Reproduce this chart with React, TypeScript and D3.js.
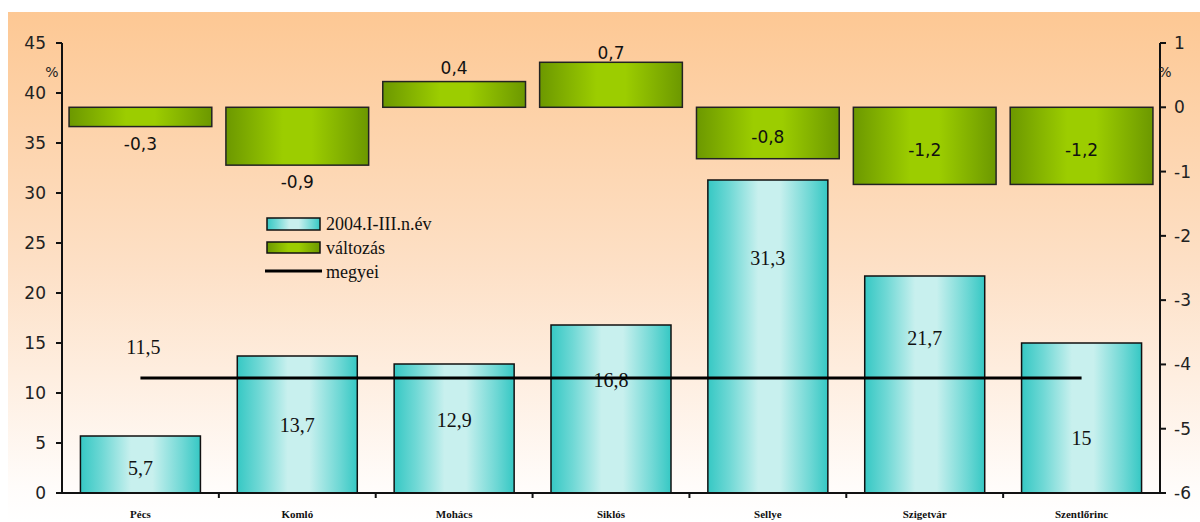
import React from "react";
import * as d3 from "d3";

const categories = ["Pécs", "Komló", "Mohács", "Siklós", "Sellye", "Szigetvár", "Szentlőrinc"];
const values2004 = [5.7, 13.7, 12.9, 16.8, 31.3, 21.7, 15];
const change = [-0.3, -0.9, 0.4, 0.7, -0.8, -1.2, -1.2];
const county = 11.5;
const leftTicks = [0, 5, 10, 15, 20, 25, 30, 35, 40, 45];
const rightTicks = [1, 0, -1, -2, -3, -4, -5, -6];
const legendLabels = ["2004.I-III.n.év", "változás", "megyei"];

const fmt = (v: number) => String(v).replace(".", ",");

export default function App() {
  const W = 1192, H = 510;
  const x0 = 62, x1 = 1160, yTop = 43, yBot = 493;
  const band = d3.scaleBand<string>().domain(categories).range([x0, x1]).paddingInner(0).paddingOuter(0);
  const yL = d3.scaleLinear().domain([0, 45]).range([yBot, yTop]);
  const yR = d3.scaleLinear().domain([-6, 1]).range([yBot, yTop]);
  const bw = band.bandwidth();
  const blueW = bw * 0.765;
  const greenW = bw * 0.91;
  // label positions in value units (as placed in the original)
  const blueLabelAt = [2.5, 6.8, 7.3, 11.3, 23.5, 15.5, 5.5];
  const greenLabelAt = [-0.56, -1.14, 0.62, 0.86, -0.45, -0.65, -0.65];

  return (
    <svg width={W} height={H} style={{ display: "block", position: "absolute", left: 8, top: 12 }}>
      <defs>
        <linearGradient id="bg" x1="0" y1="0" x2="0" y2="1">
          <stop offset="0" stopColor="#fdc894" />
          <stop offset="0.5" stopColor="#fde0c6" />
          <stop offset="0.93" stopColor="#fffcfa" />
          <stop offset="1" stopColor="#ffffff" />
        </linearGradient>
        <linearGradient id="blue" x1="0" y1="0" x2="1" y2="0">
          <stop offset="0" stopColor="#36c8c4" />
          <stop offset="0.18" stopColor="#6fd8d5" />
          <stop offset="0.42" stopColor="#c8f0ee" />
          <stop offset="0.6" stopColor="#c8f0ee" />
          <stop offset="0.85" stopColor="#6fd8d5" />
          <stop offset="1" stopColor="#36c8c4" />
        </linearGradient>
        <linearGradient id="green" x1="0" y1="0" x2="1" y2="0">
          <stop offset="0" stopColor="#6c9800" />
          <stop offset="0.4" stopColor="#9ccd00" />
          <stop offset="0.6" stopColor="#9ccd00" />
          <stop offset="1" stopColor="#6c9800" />
        </linearGradient>
      </defs>
      <g transform="translate(-8,-12)">
        <rect x={8} y={12} width={W} height={H} fill="url(#bg)" />

        {/* blue bars */}
        {categories.map((c, i) => {
          const cx = band(c)! + bw / 2;
          return (
            <g key={"b" + c}>
              <rect x={cx - blueW / 2} y={yL(values2004[i])} width={blueW} height={yBot - yL(values2004[i])}
                fill="url(#blue)" stroke="#111" strokeWidth={1.5} />
              <text x={cx} y={yL(blueLabelAt[i]) + 7} textAnchor="middle"
                fontFamily="Liberation Serif, serif" fontSize={20} fill="#111">{fmt(values2004[i])}</text>
            </g>
          );
        })}

        {/* county line */}
        <line x1={band(categories[0])! + bw / 2} x2={band(categories[6])! + bw / 2} y1={yL(county)} y2={yL(county)}
          stroke="#000" strokeWidth={3} />
        <text x={band(categories[0])! + bw / 2 + 3} y={yL(county) - 24} textAnchor="middle"
          fontFamily="Liberation Serif, serif" fontSize={20} fill="#111">{fmt(county)}</text>

        {/* green bars */}
        {categories.map((c, i) => {
          const cx = band(c)! + bw / 2;
          const v = change[i];
          return (
            <g key={"g" + c}>
              <rect x={cx - greenW / 2} y={Math.min(yR(v), yR(0))} width={greenW} height={Math.abs(yR(v) - yR(0))}
                fill="url(#green)" stroke="#222" strokeWidth={1.5} />
              <text x={cx} y={yR(greenLabelAt[i]) + 7} textAnchor="middle"
                fontFamily="DejaVu Sans, sans-serif" fontSize={17} fill="#111">{fmt(v)}</text>
            </g>
          );
        })}

        {/* axes */}
        <line x1={x0} x2={x0} y1={yTop} y2={yBot} stroke="#111" strokeWidth={2} />
        <line x1={x1} x2={x1} y1={yTop} y2={yBot} stroke="#111" strokeWidth={2} />
        <line x1={x0} x2={x1} y1={yBot} y2={yBot} stroke="#111" strokeWidth={2} />
        {leftTicks.map(t => (
          <g key={"l" + t}>
            <line x1={x0 - 6} x2={x0} y1={yL(t)} y2={yL(t)} stroke="#111" strokeWidth={2} />
            <text x={x0 - 16} y={yL(t) + 6} textAnchor="end" fontFamily="DejaVu Sans, sans-serif" fontSize={17} fill="#222">{t}</text>
          </g>
        ))}
        {rightTicks.map(t => (
          <g key={"r" + t}>
            <line x1={x1} x2={x1 + 6} y1={yR(t)} y2={yR(t)} stroke="#111" strokeWidth={2} />
            <text x={x1 + 14} y={yR(t) + 6} textAnchor="start" fontFamily="DejaVu Sans, sans-serif" fontSize={17} fill="#222">{t}</text>
          </g>
        ))}
        {categories.slice(1).map(c => (
          <line key={"t" + c} x1={band(c)!} x2={band(c)!} y1={yBot} y2={yBot + 5} stroke="#111" strokeWidth={2} />
        ))}
        <text x={52} y={77} textAnchor="middle" fontFamily="DejaVu Sans, sans-serif" fontSize={14} fill="#222">%</text>
        <text x={1165} y={77} textAnchor="middle" fontFamily="DejaVu Sans, sans-serif" fontSize={14} fill="#222">%</text>

        {categories.map(c => (
          <text key={"c" + c} x={band(c)! + bw / 2} y={518} textAnchor="middle"
            fontFamily="Liberation Serif, serif" fontWeight="bold" fontSize={11} fill="#111">{c}</text>
        ))}

        {/* legend */}
        <rect x={267} y={218} width={53} height={12} fill="url(#blue)" stroke="#111" strokeWidth={1.5} />
        <rect x={267} y={242} width={53} height={11} fill="url(#green)" stroke="#111" strokeWidth={1.5} />
        <line x1={265} x2={322} y1={271} y2={271} stroke="#000" strokeWidth={3} />
        {legendLabels.map((l, i) => (
          <text key={l} x={326} y={230 + i * 24} fontFamily="Liberation Serif, serif" fontSize={18} fill="#111">{l}</text>
        ))}
      </g>
    </svg>
  );
}
